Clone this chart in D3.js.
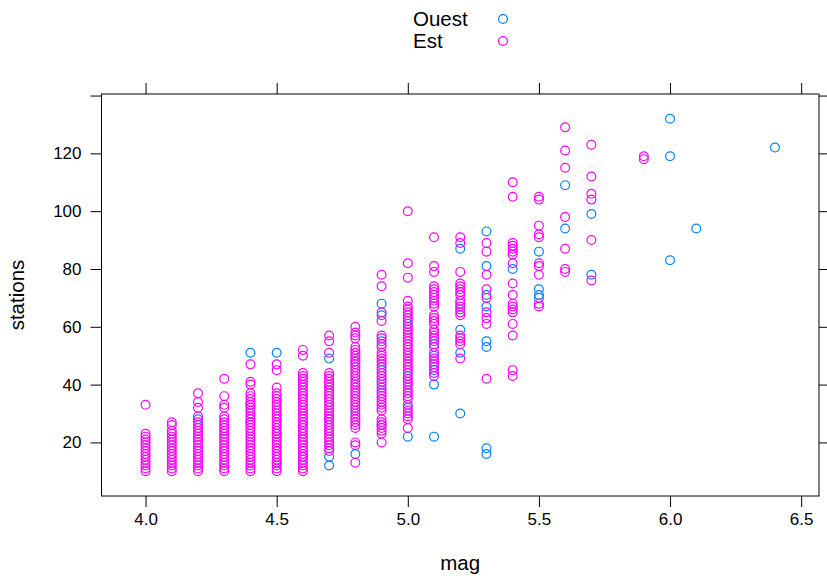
<!DOCTYPE html>
<html>
<head>
<meta charset="utf-8">
<script src="https://cdn.jsdelivr.net/npm/d3@7/dist/d3.min.js"></script>
<style>
  html, body { margin: 0; padding: 0; background: #fff; }
  svg text { font-family: "Liberation Sans", Arial, sans-serif; fill: #000; }
</style>
</head>
<body>
<svg id="chart" width="827" height="576"></svg>
<script>
// ---- data ----
const groupNames = ["Ouest", "Est"];
const groupColors = ["#0080ff", "#ff00ff"];

const magLevels = [4.0, 4.1, 4.2, 4.3, 4.4, 4.5, 4.6, 4.7, 4.8, 4.9, 5.0, 5.1, 5.2, 5.3, 5.4, 5.5, 5.6, 5.7, 5.9, 6.0, 6.1, 6.4];

const ouestStations = [
  [],
  [],
  [28],
  [],
  [51, 33, 27],
  [51, 23, 13],
  [26, 15],
  [49, 28, 15, 12],
  [48, 30, 16],
  [68, 64, 55, 45, 40, 26],
  [61, 43, 39, 32, 22],
  [54, 50, 45, 40, 22],
  [87, 66, 59, 51, 30],
  [93, 81, 71, 67, 55, 53, 18, 16],
  [80],
  [86, 73, 71, 70],
  [109, 94],
  [99, 78],
  [],
  [132, 119, 83],
  [94],
  [122]
];

const estStations = [
  [10, 11, 12, 13, 14, 15, 16, 17, 18, 19, 20, 21, 22, 23, 33],
  [10, 11, 12, 13, 14, 15, 16, 17, 18, 19, 20, 21, 22, 23, 24, 26, 27],
  [10, 11, 12, 13, 14, 15, 16, 17, 18, 19, 20, 21, 22, 23, 24, 25, 26, 27, 29, 32, 34, 37],
  [10, 11, 12, 13, 14, 15, 16, 17, 18, 19, 20, 21, 22, 23, 24, 25, 26, 27, 28, 29, 32, 33, 36, 42],
  [10, 11, 12, 13, 14, 15, 16, 17, 18, 19, 20, 21, 22, 23, 24, 25, 26, 27, 28, 29, 30, 31, 32, 33, 34, 35, 36, 37, 40, 41, 47],
  [10, 11, 12, 13, 14, 15, 16, 17, 18, 19, 20, 21, 22, 23, 24, 25, 26, 27, 28, 29, 30, 31, 32, 33, 34, 35, 36, 37, 39, 45, 47],
  [10, 11, 12, 13, 14, 15, 16, 17, 18, 19, 20, 21, 22, 23, 24, 25, 26, 27, 28, 29, 30, 31, 32, 33, 34, 35, 36, 37, 38, 39, 40, 41, 42, 43, 44, 50, 52],
  [17, 18, 19, 20, 21, 22, 23, 24, 25, 26, 27, 28, 29, 30, 31, 32, 33, 34, 35, 36, 37, 38, 39, 40, 41, 42, 43, 44, 51, 55, 57],
  [13, 19, 20, 25, 26, 27, 28, 29, 31, 32, 33, 34, 35, 36, 37, 38, 39, 40, 41, 42, 43, 44, 45, 46, 47, 48, 49, 50, 51, 52, 53, 56, 57, 58, 60],
  [20, 23, 24, 25, 26, 27, 28, 31, 32, 33, 34, 35, 36, 37, 38, 39, 41, 42, 43, 44, 46, 47, 48, 49, 50, 51, 53, 54, 56, 57, 62, 65, 74, 78],
  [25, 28, 29, 30, 31, 33, 35, 36, 37, 38, 40, 41, 42, 44, 45, 46, 47, 48, 49, 50, 51, 52, 53, 54, 55, 56, 57, 58, 59, 60, 62, 63, 64, 65, 66, 67, 69, 77, 82, 100],
  [43, 44, 46, 47, 48, 49, 51, 53, 55, 56, 57, 58, 59, 61, 62, 63, 64, 67, 68, 69, 70, 71, 72, 73, 74, 79, 81, 91],
  [49, 54, 55, 56, 57, 64, 65, 67, 68, 69, 71, 72, 73, 74, 75, 79, 89, 91],
  [42, 61, 63, 65, 70, 73, 78, 86, 89],
  [43, 45, 57, 61, 65, 66, 67, 68, 71, 75, 82, 85, 86, 87, 88, 89, 105, 110],
  [67, 68, 78, 81, 82, 91, 92, 95, 104, 105],
  [79, 80, 87, 98, 115, 121, 129],
  [76, 90, 104, 106, 112, 123],
  [118, 119],
  [],
  [],
  []
];

const xTicks = [4.0, 4.5, 5.0, 5.5, 6.0, 6.5];
const xTickLabels = ["4.0", "4.5", "5.0", "5.5", "6.0", "6.5"];
const yTicks = [20, 40, 60, 80, 100, 120, 140];
const yTickLabels = ["20", "40", "60", "80", "100", "120", ""];
const xTitle = "mag";
const yTitle = "stations";

// ---- layout ----
const svg = d3.select("#chart");
const panel = { left: 101.5, right: 819, top: 94, bottom: 496 };
const x = d3.scaleLinear().domain([3.832, 6.568]).range([panel.left, panel.right]);
const y = d3.scaleLinear().domain([1.46, 140.54]).range([panel.bottom, panel.top]);
const tickLen = 11;
const tickFont = 17;
const titleFont = 20.5;
const pointR = 4.4;

// build point table: Ouest drawn first, Est on top
const points = [];
[ouestStations, estStations].forEach((series, g) => {
  series.forEach((vals, i) => {
    vals.forEach(s => points.push({ mag: magLevels[i], stations: s, g }));
  });
});

// points
svg.append("g")
  .selectAll("circle")
  .data(points)
  .join("circle")
  .attr("cx", d => x(d.mag))
  .attr("cy", d => y(d.stations))
  .attr("r", pointR)
  .attr("fill", "none")
  .attr("stroke", d => groupColors[d.g])
  .attr("stroke-width", 1.2);

// panel border
svg.append("rect")
  .attr("x", panel.left).attr("y", panel.top)
  .attr("width", panel.right - panel.left)
  .attr("height", panel.bottom - panel.top)
  .attr("fill", "none").attr("stroke", "#000").attr("stroke-width", 1);

// bottom axis
const xb = svg.append("g").attr("transform", `translate(0,${panel.bottom})`)
  .call(d3.axisBottom(x).tickValues(xTicks).tickSize(tickLen).tickPadding(6)
    .tickFormat((d, i) => xTickLabels[i]));
xb.select(".domain").remove();
xb.selectAll("text").attr("font-size", tickFont).attr("font-family", "Liberation Sans");
// top axis (ticks only)
const xt = svg.append("g").attr("transform", `translate(0,${panel.top})`)
  .call(d3.axisTop(x).tickValues(xTicks).tickSize(tickLen).tickFormat(""));
xt.select(".domain").remove();

// left axis
const yl = svg.append("g").attr("transform", `translate(${panel.left},0)`)
  .call(d3.axisLeft(y).tickValues(yTicks).tickSize(tickLen).tickPadding(9)
    .tickFormat((d, i) => yTickLabels[i]));
yl.select(".domain").remove();
yl.selectAll("text").attr("font-size", tickFont).attr("font-family", "Liberation Sans");
// right axis (ticks only)
const yr = svg.append("g").attr("transform", `translate(${panel.right},0)`)
  .call(d3.axisRight(y).tickValues(yTicks).tickSize(tickLen).tickFormat(""));
yr.select(".domain").remove();

svg.selectAll(".tick line").attr("stroke", "#000");

// axis titles
svg.append("text")
  .attr("x", x(5.2)).attr("y", 570)
  .attr("text-anchor", "middle")
  .attr("font-size", titleFont)
  .text(xTitle);
svg.append("text")
  .attr("transform", `translate(24,${(panel.top + panel.bottom) / 2}) rotate(-90)`)
  .attr("text-anchor", "middle")
  .attr("font-size", titleFont)
  .text(yTitle);

// legend
const legend = svg.append("g");
groupNames.forEach((name, i) => {
  const cy = 19 + i * 22;
  legend.append("text")
    .attr("x", 413).attr("y", cy)
    .attr("dy", "0.35em")
    .attr("font-size", titleFont)
    .text(name);
  legend.append("circle")
    .attr("cx", 503).attr("cy", cy)
    .attr("r", pointR)
    .attr("fill", "none")
    .attr("stroke", groupColors[i])
    .attr("stroke-width", 1.2);
});
</script>
</body>
</html>
